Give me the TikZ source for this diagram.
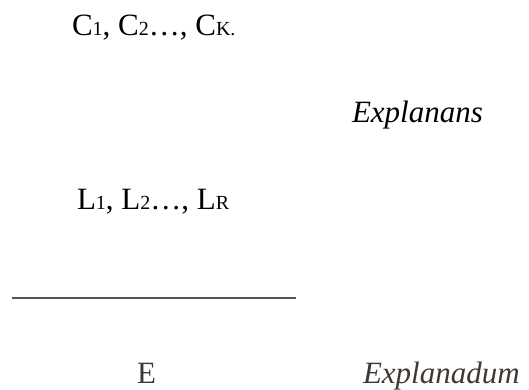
\documentclass[tikz,border=0pt]{standalone}
\usepackage{fontspec}
\setmainfont{Liberation Serif}
\definecolor{brownish}{HTML}{3F3833}
\definecolor{rulegray}{HTML}{555555}
\newcommand{\sm}[1]{{\fontsize{20}{20}\selectfont #1}}
\begin{document}
\begin{tikzpicture}[x=1pt,y=-1pt,
  txt/.style={anchor=base west,inner sep=0pt,outer sep=0pt,font=\fontsize{31}{36}\selectfont},
  ital/.style={txt,font=\fontsize{31}{36}\selectfont\itshape}]
\useasboundingbox (0,0) rectangle (529,389);
\node[txt] (cond) at (72,35) {C\sm{1}, C\sm{2}\ldots, C\sm{K.}};
\node[ital] (explanans) at (352,122) {Explanans};
\node[txt] (laws) at (77,209) {L\sm{1}, L\sm{2}\ldots, L\sm{R}};
\coordinate (ruleL) at (12,298);
\coordinate (ruleR) at (296,298);
\draw[rulegray,line width=1.3pt] (ruleL) -- (ruleR);
\node[txt,text=brownish] (e) at (137,383) {E};
\node[ital,text=brownish] (explanadum) at (363,383) {Explanadum};
\end{tikzpicture}
\end{document}
